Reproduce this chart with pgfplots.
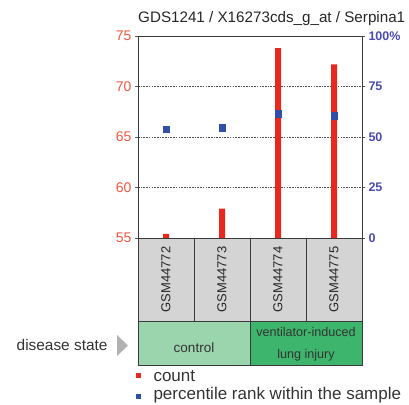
\documentclass[border=0pt]{standalone}
\usepackage{pgfplots}
\pgfplotsset{compat=1.18}
\usepackage{fontspec}
\setmainfont{Liberation Sans}
\definecolor{barred}{HTML}{E8281E}
\definecolor{ptblue}{HTML}{2F4FA8}
\definecolor{lblred}{HTML}{F4553F}
\definecolor{lblblue}{HTML}{4A4AB0}
\definecolor{boxgray}{HTML}{D4D4D4}
\definecolor{ctrlgreen}{HTML}{9AD5AE}
\definecolor{ventgreen}{HTML}{3DB56C}
\definecolor{edge}{HTML}{3A3A3A}
\begin{document}
\begin{tikzpicture}
\path[use as bounding box] (0pt,0pt) rectangle (409pt,-404pt);
\begin{axis}[at={(138pt,-238pt)}, anchor=south west, scale only axis,
  width=224pt, height=202pt,
  xmin=-0.5, xmax=3.5, ymin=55, ymax=75,
  xtick=\empty, ytick={55,60,65,70,75},
  ymajorgrids, grid style={dash pattern=on 1.6pt off 1.1pt, gray!65!black, line width=1pt},
  axis line style={edge, line width=0.9pt},
  tick style={gray!65!black, line width=0.9pt}, tick align=outside, major tick length=3pt,
  yticklabel style={text=lblred, font=\fontsize{14}{14}\selectfont},
  /pgf/number format/assume math mode=true,
  ]
\addplot[ybar, bar width=6pt, bar shift=0pt, fill=barred, draw=none] coordinates {(0,55.4) (1,57.9) (2,73.8) (3,72.2)};
\end{axis}
\begin{axis}[at={(138pt,-238pt)}, anchor=south west, scale only axis,
  width=224pt, height=202pt,
  xmin=-0.5, xmax=3.5, ymin=0, ymax=100,
  axis x line=none, axis y line*=right,
  ytick={0,25,50,75,100}, yticklabels={0,25,50,75,100\%},
  axis line style={edge, line width=0.9pt, -},
  tick style={gray!65!black, line width=0.9pt}, tick align=outside, major tick length=3pt,
  yticklabel style={text=lblblue, font=\fontsize{12.5}{12.5}\selectfont\bfseries},
  /pgf/number format/assume math mode=true,
  ]
\addplot[only marks, mark=square*, mark size=3.2pt, color=ptblue] coordinates {(0,54) (1,54.6) (2,61.5) (3,60.5)};
\end{axis}
% sample boxes
\foreach \i/\n in {0/GSM44772,1/GSM44773,2/GSM44774,3/GSM44775}{
  \draw[edge, line width=0.9pt, fill=boxgray] ({138pt+\i*56pt},-238pt) rectangle ({194pt+\i*56pt},-321pt);
  \node[rotate=90, font=\fontsize{13}{13}\selectfont, text=black!85] at ({166pt+\i*56pt},-279.5pt) {\n};
}
\draw[edge, line width=0.9pt, fill=ctrlgreen] (138pt,-321pt) rectangle (250pt,-365pt);
\draw[edge, line width=0.9pt, fill=ventgreen] (250pt,-321pt) rectangle (362pt,-365pt);
\node[font=\fontsize{13.5}{13.5}\selectfont, text=black!80] at (194pt,-348pt) {control};
\node[font=\fontsize{12.6}{12.6}\selectfont, text=black!80] at (306pt,-332pt) {ventilator-induced};
\node[font=\fontsize{12.6}{12.6}\selectfont, text=black!80] at (306pt,-355pt) {lung injury};
\node[anchor=east, font=\fontsize{15.4}{15.4}\selectfont, text=black!80] at (111pt,-345pt) {disease state};
\fill[gray!60] (117pt,-335pt) -- (117pt,-356pt) -- (128pt,-345.5pt) -- cycle;
% legend
\fill[barred] (135.5pt,-373pt) rectangle (140.5pt,-378pt);
\node[anchor=west, font=\fontsize{17}{17}\selectfont, text=black!80] at (150pt,-376pt) {count};
\fill[ptblue] (135.5pt,-394pt) rectangle (140.5pt,-399pt);
\node[anchor=west, font=\fontsize{17}{17}\selectfont, text=black!80] at (150pt,-395pt) {percentile rank within the sample};
% title
\node[anchor=base west, font=\fontsize{15.2}{15.2}\selectfont, text=black!85, inner sep=0pt] at (138pt,-23pt) {GDS1241 / X16273cds\_g\_at / Serpina1};
\end{tikzpicture}
\end{document}
